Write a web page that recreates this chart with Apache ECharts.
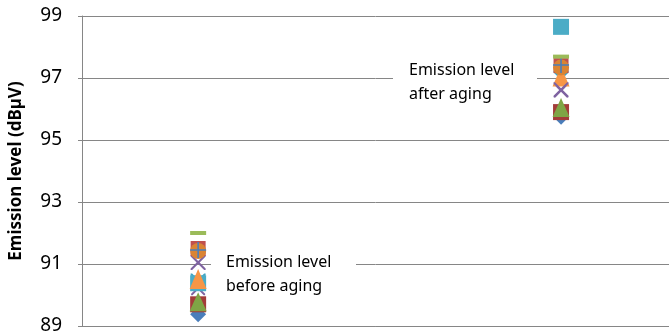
<!DOCTYPE html>
<html><head><meta charset="utf-8">
<script src="https://cdn.jsdelivr.net/npm/echarts@6/dist/echarts.min.js"></script>
<style>html,body{margin:0;padding:0;background:#fff}#c{width:669px;height:335px}</style>
</head><body><div id="c"></div>
<script>
// x positions: 1 = before aging, 2 = after aging
const categories = ['before aging', 'after aging'];
const yTicks = [89, 91, 93, 95, 97, 99];
const yAxisTitle = 'Emission level (dBµV)';
const labelBefore = 'Emission level\nbefore aging';
const labelAfter = 'Emission level\nafter aging';

// each sample: [before, after]
const s1 = [89.38, 95.75];  // blue diamond
const s2 = [89.70, 95.90];  // dark red square
const s3 = [89.78, 96.05];  // green triangle
const s4 = [90.22, 96.60];  // purple x
const s5 = [90.45, 96.98];  // aqua star
const s6 = [90.38, 98.65];  // aqua square
const s7 = [90.52, 97.05];  // orange triangle
const s8 = [91.05, 96.62];  // purple x
const s9 = [91.50, 97.40];  // red square
const s10 = [91.42, 97.34]; // orange circle
const s11 = [91.45, 97.42]; // blue plus
const s12 = [92.00, 97.69]; // green dash

const X = 'path://M0,0L2,0L10,8L18,0L20,0L20,2L12,10L20,18L20,20L18,20L10,12L2,20L0,20L0,18L8,10L0,2Z';
const STAR = 'path://M0,0L2,0L9,7L9,0L11,0L11,7L18,0L20,0L20,2L12,10L20,18L20,20L18,20L11,13L11,20L9,20L9,13L2,20L0,20L0,18L8,10L0,2Z';
const PLUS = 'path://M9,0L11,0L11,9L20,9L20,11L11,11L11,20L9,20L9,11L0,11L0,9L9,9Z';

function mk(name, vals, symbol, size, color) {
  return {
    name, type: 'scatter', symbol, symbolSize: size,
    itemStyle: { color, opacity: 1 },
    data: vals.map((v, i) => [i + 1, v]),
    emphasis: { disabled: true }
  };
}

const series = [
  mk('s1', s1, 'diamond', [16, 16], '#4A7EBB'),
  mk('s2', s2, 'rect', [16, 16], '#A33C39'),
  mk('s3', s3, 'triangle', [17, 19], '#7FA545'),
  mk('s4', s4, X, [14, 14], '#7F63A1'),
  mk('s5', s5, STAR, [15, 15], '#3FA3C2'),
  mk('s6', s6, 'rect', [16, 16], '#4BACC6'),
  mk('s7', s7, 'triangle', [17, 20], '#F79646'),
  mk('s8', s8, X, [15, 15], '#7F63A1'),
  mk('s9', s9, 'rect', [15, 15], '#C0504D'),
  mk('s10', s10, 'circle', [16, 16], '#DA8433'),
  mk('s11', s11, PLUS, [16, 16], '#4A7EBB'),
  mk('s12', s12, 'rect', [16, 4], '#9BBB59')
];

const chart = echarts.init(document.getElementById('c'));
chart.setOption({
  animation: false,
  backgroundColor: '#fff',
  grid: { left: 82, right: 0, top: 16, bottom: 9, outerBoundsMode: 'none', containLabel: false },
  xAxis: {
    type: 'value', min: 0.68, max: 2.2975,
    axisLine: { show: true, onZero: false, lineStyle: { color: '#868686', width: 1 } },
    axisTick: { show: false }, axisLabel: { show: false }, splitLine: { show: false }
  },
  yAxis: {
    type: 'value', min: yTicks[0], max: yTicks[yTicks.length - 1], interval: 2,
    name: yAxisTitle, nameLocation: 'middle', nameGap: 57,
    nameTextStyle: { fontFamily: 'Noto Sans', fontWeight: 'bold', fontSize: 17, color: '#000' },
    axisLine: { show: true, lineStyle: { color: '#868686', width: 1 } },
    axisTick: { show: true, length: 4, lineStyle: { color: '#868686' } },
    axisLabel: { fontFamily: 'Noto Sans', fontSize: 19, color: '#000', margin: 20 },
    splitLine: { show: true, lineStyle: { color: '#868686', width: 1 } }
  },
  series,
  graphic: [
    { type: 'rect', z: 50, shape: { x: 211, y: 245, width: 145, height: 54 }, style: { fill: '#fff' } },
    { type: 'text', z: 51, left: 226, top: 250, style: { text: labelBefore, font: '16px "Noto Sans"', fill: '#000', lineHeight: 24 } },
    { type: 'rect', z: 50, shape: { x: 393, y: 55, width: 144, height: 54 }, style: { fill: '#fff' } },
    { type: 'text', z: 51, left: 409, top: 58, style: { text: labelAfter, font: '16px "Noto Sans"', fill: '#000', lineHeight: 24 } }
  ]
});
</script></body></html>
